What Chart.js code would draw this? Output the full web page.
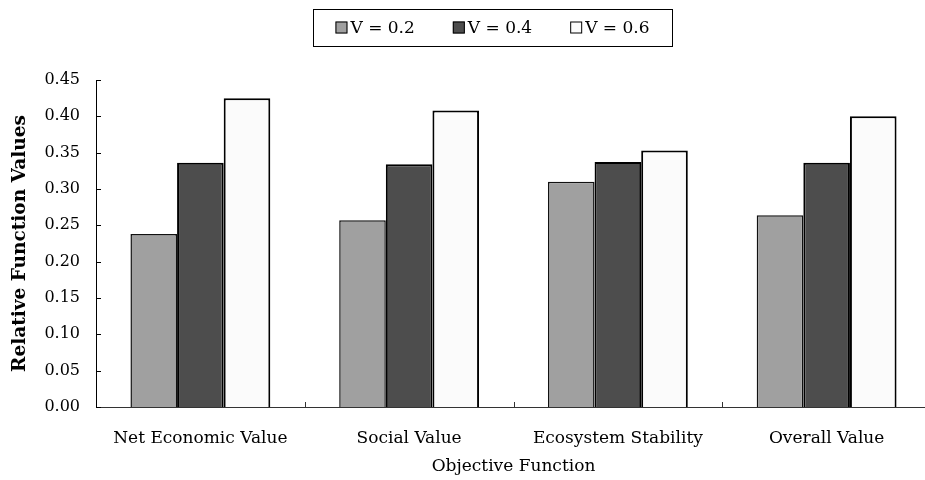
<!DOCTYPE html>
<html>
<head>
<meta charset="utf-8">
<script src="https://cdn.jsdelivr.net/npm/chart.js@4/dist/chart.umd.min.js"></script>
<style>
    html, body { margin: 0; padding: 0; overflow: hidden; background: #fff; }
    #wrap { width: 935px; height: 480px; }
</style>
</head>
<body>
<div id="wrap"><canvas id="objective"></canvas></div>
<script>
const categories = ['Net Economic Value', 'Social Value', 'Ecosystem Stability', 'Overall Value'];
const seriesLabels = ['V = 0.2', 'V = 0.4', 'V = 0.6'];
const v02 = [0.238, 0.257, 0.310, 0.264];
const v04 = [0.336, 0.334, 0.337, 0.336];
const v06 = [0.425, 0.408, 0.353, 0.400];
const yMin = 0, yMax = 0.45, yStep = 0.05;

const FONT = "'DejaVu Serif', serif";
const fills = ['#a0a0a0', '#4d4d4d', '#fbfbfb'];

// legend drawn by hand so it can sit where the original has it
const boxLegend = {
    id: 'boxLegend',
    afterDraw(chart) {
        const ctx = chart.ctx;
        ctx.save();
        ctx.font = '17px ' + FONT;
        ctx.textBaseline = 'middle';
        const sq = 12, gap = 3, spacing = 38;
        const items = chart.data.datasets.map(d => ({
            label: d.label, color: d.backgroundColor,
            w: sq + gap + ctx.measureText(d.label).width
        }));
        const total = items.reduce((s, it) => s + it.w, 0) + spacing * (items.length - 1);
        const cx = 492.5, cy = 27.5;
        ctx.strokeStyle = '#000';
        ctx.lineWidth = 1;
        ctx.strokeRect(313.5, 9.5, 359, 37);
        let x = cx - total / 2;
        items.forEach(it => {
            ctx.fillStyle = it.color;
            ctx.fillRect(x, cy - sq / 2, sq, sq);
            ctx.strokeStyle = '#000';
            ctx.strokeRect(x + 0.5, cy - sq / 2 + 0.5, sq - 1, sq - 1);
            ctx.fillStyle = '#000';
            ctx.fillText(it.label, x + sq + gap, cy + 1);
            x += it.w + spacing;
        });
        ctx.restore();
    }
};

// short tick marks pointing into the plot: between categories and at each y step
const innerTicks = {
    id: 'innerTicks',
    afterDraw(chart) {
        const xs = chart.scales.x, ys = chart.scales.y, ctx = chart.ctx;
        const {left, bottom} = chart.chartArea;
        ctx.save();
        ctx.lineWidth = 1;
        ctx.strokeStyle = '#333';
        for (let i = 1; i < categories.length; i++) {
            const px = Math.round((xs.getPixelForValue(i - 1) + xs.getPixelForValue(i)) / 2) + 0.5;
            ctx.beginPath();
            ctx.moveTo(px, bottom);
            ctx.lineTo(px, bottom - 5);
            ctx.stroke();
        }
        ctx.strokeStyle = '#000';
        ys.ticks.forEach(t => {
            const py = Math.round(ys.getPixelForValue(t.value)) + 0.5;
            ctx.beginPath();
            ctx.moveTo(left, py);
            ctx.lineTo(left + 5, py);
            ctx.stroke();
        });
        ctx.restore();
    }
};

new Chart(
    document.getElementById('objective'),
    {
        type: 'bar',
        plugins: [boxLegend, innerTicks],
        data: {
            labels: categories,
            datasets: [
                {label: seriesLabels[0], data: v02, backgroundColor: fills[0], borderColor: '#111', borderWidth: 1.5},
                {label: seriesLabels[1], data: v04, backgroundColor: fills[1], borderColor: '#000', borderWidth: 2},
                {label: seriesLabels[2], data: v06, backgroundColor: fills[2], borderColor: '#000', borderWidth: 2}
            ]
        },
        options: {
            responsive: true,
            maintainAspectRatio: false,
            animation: false,
            layout: {
                padding: {top: 80, right: 4, left: 0, bottom: 0}
            },
            datasets: {
                bar: {
                    categoryPercentage: 0.67,
                    barPercentage: 1.0
                }
            },
            plugins: {
                legend: {display: false},
                tooltip: {enabled: false}
            },
            scales: {
                x: {
                    grid: {display: false},
                    border: {display: true, color: '#333', width: 1},
                    ticks: {
                        color: '#000',
                        font: {family: FONT, size: 17},
                        padding: 13,
                        maxRotation: 0
                    },
                    title: {
                        display: true,
                        text: 'Objective Function',
                        color: '#000',
                        font: {family: FONT, size: 17},
                        padding: {top: 4, bottom: 3}
                    },
                    afterFit(scale) { scale.height = 73; }
                },
                y: {
                    min: yMin,
                    max: yMax,
                    grid: {display: false},
                    border: {display: true, color: '#000', width: 1},
                    ticks: {
                        stepSize: yStep,
                        color: '#000',
                        font: {family: FONT, size: 16},
                        padding: 8,
                        callback: v => v.toFixed(2)
                    },
                    title: {
                        display: true,
                        text: 'Relative Function Values',
                        color: '#000',
                        font: {family: FONT, size: 18.5, weight: 'bold'},
                        padding: {top: 9, bottom: 4}
                    },
                    afterFit(scale) { scale.width = 96; }
                }
            }
        }
    }
);
</script>
</body>
</html>
